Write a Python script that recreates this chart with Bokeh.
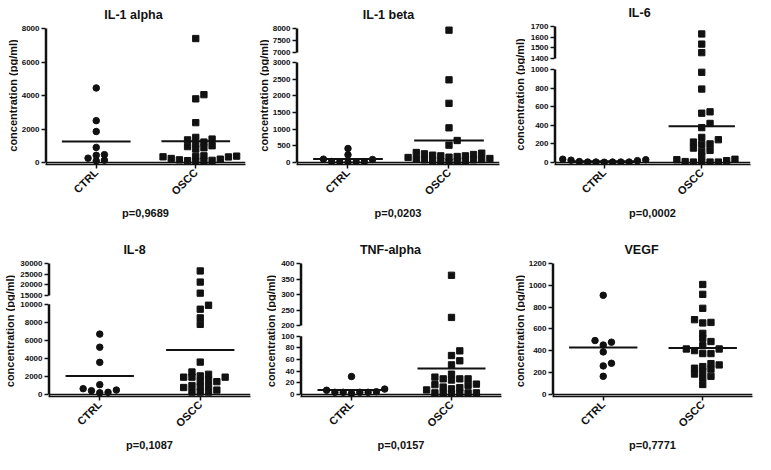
import math
from bokeh.plotting import figure
from bokeh.layouts import row, column
from bokeh.models import Range1d, FixedTicker, Title, ColumnDataSource
from bokeh.core.properties import value
from bokeh.embed import file_html
from bokeh.resources import INLINE

FONT = "Liberation Sans"
INK = "#111111"

# ---------------- data ----------------
groups = ["CTRL", "OSCC"]
titles = ["IL-1 alpha", "IL-1 beta", "IL-6", "IL-8", "TNF-alpha", "VEGF"]
p_values = ["p=0,9689", "p=0,0203", "p=0,0002", "p=0,1087", "p=0,0157", "p=0,7771"]
y_label = "concentration (pg/ml)"

il1a_ctrl = [4450, 2500, 1850, 900, 470, 430, 260, 100, 140]
il1a_oscc = [7400, 4050, 3800, 2380, 1500, 1400, 1350, 1220, 1120, 1000, 950, 880, 800,
             400, 380, 360, 340, 330, 240, 200, 160, 130, 110, 90, 60]
il1a_means = [1250, 1270]
il1a_ticks = [[0, 2000, 4000, 6000, 8000]]

il1b_ctrl = [420, 230, 100, 90, 30, 20, 10, 20, 25]
il1b_oscc = [7930, 2480, 1775, 1040, 660, 520, 300, 280, 260, 240, 220, 200, 200, 180, 160,
             150, 120, 100, 90, 80, 80, 60, 50, 40, 30, 10]
il1b_means = [105, 660]
il1b_ticks = [[7000, 7500, 8000], [0, 500, 1000, 1500, 2000, 2500, 3000]]

il6_ctrl = [25, 5, 5, 30, 35, 5, 5, 5, 10, 20, 3]
il6_oscc = [1630, 1535, 1455, 970, 790, 545, 530, 420, 375, 270, 245, 220, 200, 195, 155,
            130, 120, 65, 35, 30, 20, 10, 5, 5, 5, 3]
il6_means = [14, 390]
il6_ticks = [[1400, 1500, 1600, 1700], [0, 200, 400, 600, 800, 1000]]

il8_ctrl = [6700, 5250, 3570, 1100, 650, 430, 200, 250, 500]
il8_oscc = [26500, 21300, 16100, 9900, 9460, 8500, 7780, 3600, 1930, 1640, 2070, 2250, 2500,
            1930, 1930, 1430, 1430, 1000, 930, 785, 857, 285, 285, 285, 500]
il8_means = [2070, 4930]
il8_ticks = [[15000, 20000, 25000, 30000], [0, 2000, 4000, 6000, 8000, 10000]]

tnf_ctrl = [31, 7.5, 9.5, 4, 4, 2, 4, 4, 5]
tnf_oscc = [362, 226, 75, 67, 58, 51, 35, 30, 27, 27, 25, 27, 18, 16, 17, 13, 8, 10, 12,
            3, 3, 1, 3, 3, 3]
tnf_means = [8, 44.6]
tnf_ticks = [[200, 250, 300, 350, 400], [0, 20, 40, 60, 80, 100]]

vegf_ctrl = [908, 494, 479, 453, 390, 286, 262, 167]
vegf_oscc = [1007, 917, 789, 685, 660, 655, 560, 515, 485, 447, 417, 417, 402, 375, 375,
             283, 271, 256, 241, 232, 211, 188, 167, 152, 92]
vegf_means = [430, 426]
vegf_ticks = [[0, 200, 400, 600, 800, 1000, 1200]]

# ---------------- layout (pixels inside each panel box) ----------------
# segments: (low value, high value, pixel row of high, pixel row of low), top to bottom
geos = [
    dict(box=(251, 226), axis_x=43, right=245, label_x=12, title_cx=130,
         segs=[(0, 8000, 28, 162)]),
    dict(box=(251, 226), axis_x=43, right=248, label_x=12, title_cx=134,
         segs=[(7000, 8000, 28, 52), (0, 3000, 62, 162)]),
    dict(box=(253, 226), axis_x=53, right=248, label_x=17, title_cx=137,
         segs=[(1400, 1700, 26, 58), (0, 1000, 69, 162)]),
    dict(box=(251, 228), axis_x=49, right=250, label_x=9, title_cx=134,
         segs=[(15000, 30000, 37, 69), (0, 10000, 78, 172)]),
    dict(box=(251, 228), axis_x=50, right=250, label_x=19, title_cx=139,
         segs=[(200, 400, 37, 99), (0, 100, 110, 172)]),
    dict(box=(253, 228), axis_x=49, right=250, label_x=17, title_cx=137,
         segs=[(0, 1200, 37, 172)]),
]

DX = 8.3      # horizontal slot spacing of the scatter, px
MIN_D = 5.0   # minimal distance between marker centres, px
PAD_T = 4
PAD_B = 2
MEAN_HALF = 0.34  # half length of the mean bar, in category units

BOLD_W = {' ': 278, '-': 333, '1': 556, '6': 556, '8': 556, 'A': 722, 'E': 667, 'F': 611,
          'G': 778, 'I': 278, 'L': 611, 'N': 722, 'T': 611, 'V': 667, 'a': 556, 'b': 611,
          'e': 556, 'h': 611, 'l': 278, 'p': 611, 't': 333}


def text_w(s, size):
    return sum(BOLD_W.get(c, 556) for c in s) / 1000.0 * size


def style_axis(ax, label_size):
    ax.axis_line_color = INK
    ax.axis_line_width = 1.5
    ax.major_tick_line_color = INK
    ax.major_tick_line_width = 1.5
    ax.major_tick_out = 4
    ax.major_tick_in = 0
    ax.minor_tick_line_color = None
    ax.major_label_standoff = 2
    ax.major_label_text_font = FONT
    ax.major_label_text_font_style = "bold"
    ax.major_label_text_font_size = label_size
    ax.major_label_text_color = INK


def build_panel(title, ctrl, oscc, means, pval, ticks, geo):
    box_w, box_h = geo["box"]
    lw = geo["label_x"] + 6
    axis_x, right = geo["axis_x"], geo["right"]
    fig_w = box_w - lw
    ppu = (right - axis_x) / 2.0
    x_start = 0.5 - 1.0 / ppu   # frame starts 1px left of the axis line
    segs = geo["segs"]

    def ypx(v):
        for lo, hi, yt, yb in segs:
            if lo <= v <= hi:
                return yb - (v - lo) * (yb - yt) / (hi - lo)
        return segs[-1][3]

    def swarm(vals):
        order = sorted(range(len(vals)), key=lambda i: vals[i])
        placed = []
        off = [0.0] * len(vals)
        for i in order:
            y = ypx(vals[i])
            x = 0.0
            for k in range(60):
                slot = ((k + 1) // 2) * (1 if k % 2 else -1)
                x = slot * DX
                if all((x - a) ** 2 + (y - b) ** 2 >= MIN_D ** 2 for a, b in placed):
                    break
            placed.append((x, y))
            off[i] = x / ppu
        return off

    series = [(1, ctrl, swarm(ctrl), "circle", 6.5, means[0]),
              (2, oscc, swarm(oscc), "square", 6.3, means[1])]

    n = len(segs)
    splits = [(segs[i][3] + segs[i + 1][2]) // 2 for i in range(n - 1)]
    figs = []
    for k, (lo, hi, yt, yb) in enumerate(segs):
        f_top = 0 if k == 0 else splits[k - 1]
        f_bot = box_h if k == n - 1 else splits[k]
        last = (k == n - 1)
        fr_top = max(yt - PAD_T, f_top)
        fr_bot = yb + PAD_B if last else min(yb + PAD_T, f_bot)
        vpp = (hi - lo) / float(yb - yt)
        y0 = lo - (fr_bot - yb) * vpp
        y1 = hi + (yt - fr_top) * vpp
        p = figure(width=fig_w, height=f_bot - f_top,
                   x_range=Range1d(x_start, 2.5), y_range=Range1d(y0, y1),
                   toolbar_location=None, output_backend="svg",
                   min_border_left=axis_x - lw - 1, min_border_right=box_w - right,
                   min_border_top=fr_top - f_top, min_border_bottom=f_bot - fr_bot)
        p.outline_line_color = None
        p.grid.visible = False

        ya = p.yaxis[0]
        ya.ticker = FixedTicker(ticks=ticks[k])
        ya.bounds = (lo, hi)
        style_axis(ya, "8px")

        xa = p.xaxis[0]
        if last:
            xa.ticker = FixedTicker(ticks=[1, 2])
            xa.major_label_overrides = {1: groups[0], 2: groups[1]}
            xa.major_label_orientation = math.pi / 4
            style_axis(xa, "11px")
            xa.axis_label = pval
            xa.axis_label_standoff = 3
            xa.axis_label_text_font = FONT
            xa.axis_label_text_font_style = "bold"
            xa.axis_label_text_font_size = "11px"
            xa.axis_label_text_color = INK
        else:
            xa.visible = False

        if k == 0:
            tsize = 12.5
            p.title = Title(text=title, align="left",
                            offset=geo["title_cx"] - text_w(title, tsize) / 2 - axis_x + 1,
                            text_font=FONT, text_font_style="bold",
                            text_font_size="%.1fpx" % tsize, text_color=INK, standoff=6)

        # axis rules drawn inside the frame (y axis segment, and x axis at 0)
        ax0 = [0.5]
        ay0 = [y0 if last else lo]
        ax1 = [0.5]
        ay1 = [hi]
        if last:
            ax0.append(0.5)
            ay0.append(0)
            ax1.append(2.5)
            ay1.append(0)
        p.segment(x0=ax0, y0=ay0, x1=ax1, y1=ay1, line_color=INK, line_width=1.5)

        # points and mean bars
        cx, cy, cm, cs, cl = [], [], [], [], []
        for g, vals, off, marker, size, m in series:
            for v, o in zip(vals, off):
                if lo <= v <= hi:
                    cx.append(g + o)
                    cy.append(v)
                    cm.append(marker)
                    cs.append(size)
                    cl.append(1.0)
            if lo <= m <= hi:
                cx.append(g)
                cy.append(m)
                cm.append("dash")
                cs.append(2 * MEAN_HALF * ppu)
                cl.append(2.0)
        if cx:
            src = ColumnDataSource(dict(x=cx, y=cy, m=cm, s=cs, lw=cl))
            p.scatter(x="x", y="y", marker="m", size="s", line_width="lw",
                      fill_color=INK, line_color=INK, source=src)
        figs.append(p)

    lf = figure(width=lw, height=box_h, x_range=Range1d(0, lw), y_range=Range1d(box_h, 0),
                toolbar_location=None, output_backend="svg", min_border=0,
                x_axis_location=None, y_axis_location=None)
    lf.outline_line_color = None
    lf.grid.visible = False
    lf.text(x=[geo["label_x"]], y=[(segs[0][2] + segs[-1][3]) / 2.0], text=[y_label],
            angle=math.pi / 2, text_align="center", text_baseline="middle",
            text_font=value(FONT), text_font_style="bold", text_font_size="11px",
            text_color=INK)
    return row(lf, column(*figs))


datasets = [
    (il1a_ctrl, il1a_oscc, il1a_means, il1a_ticks),
    (il1b_ctrl, il1b_oscc, il1b_means, il1b_ticks),
    (il6_ctrl, il6_oscc, il6_means, il6_ticks),
    (il8_ctrl, il8_oscc, il8_means, il8_ticks),
    (tnf_ctrl, tnf_oscc, tnf_means, tnf_ticks),
    (vegf_ctrl, vegf_oscc, vegf_means, vegf_ticks),
]

panels = [build_panel(titles[i], d[0], d[1], d[2], p_values[i], d[3], geos[i])
          for i, d in enumerate(datasets)]
layout = column(row(*panels[:3]), row(*panels[3:]))

open("out.html", "w").write(file_html(layout, INLINE))
